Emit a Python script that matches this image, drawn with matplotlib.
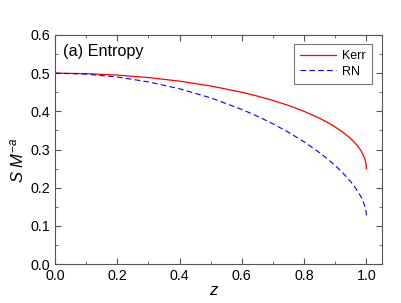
import matplotlib
matplotlib.use("Agg")
import matplotlib.pyplot as plt
from matplotlib.ticker import MultipleLocator

plt.rcParams['font.family'] = ['Liberation Sans', 'DejaVu Sans']
plt.rcParams['mathtext.fontset'] = 'custom'
plt.rcParams['mathtext.rm'] = 'Liberation Sans'
plt.rcParams['mathtext.it'] = 'Liberation Sans:italic'

z = [0.0, 0.1, 0.2, 0.3, 0.4, 0.5, 0.6, 0.65, 0.7, 0.75, 0.8, 0.85, 0.875, 0.9, 0.925,
     0.95, 0.96, 0.97, 0.98, 0.985, 0.99, 0.995, 0.999, 1.0]
kerr = [0.5, 0.4988, 0.4950, 0.4885, 0.4791, 0.4665, 0.45, 0.4400, 0.4285, 0.4154,
        0.40, 0.3817, 0.3710, 0.3590, 0.3450, 0.3281, 0.3200, 0.3108, 0.2998, 0.2931,
        0.2853, 0.2750, 0.2612, 0.25]
rn = [0.5, 0.4975, 0.4900, 0.4772, 0.4591, 0.4353, 0.405, 0.3872, 0.3673, 0.3451,
      0.32, 0.2914, 0.2753, 0.2577, 0.2380, 0.2153, 0.2048, 0.1932, 0.1797, 0.1719,
      0.1628, 0.1512, 0.1364, 0.125]

fig = plt.figure(figsize=(4.02, 3.03), dpi=100)
ax = fig.add_axes([55/402, 1 - 264/303, 327/402, 229/303])
ax.plot(z, kerr, color='red', lw=0.9, label='Kerr')
ax.plot(z, rn, color='blue', lw=0.8, ls=(0, (5, 3)), label='RN')

ax.set_xlim(0, 1.05)
ax.set_ylim(0, 0.6)
ax.set_xticks([0, 0.2, 0.4, 0.6, 0.8, 1.0])
ax.set_xticklabels(['0.0', '0.2', '0.4', '0.6', '0.8', '1.0'])
ax.xaxis.set_minor_locator(MultipleLocator(0.1))
ax.set_yticks([0, 0.1, 0.2, 0.3, 0.4, 0.5, 0.6])
ax.set_yticklabels(['0.0', '0.1', '0.2', '0.3', '0.4', '0.5', '0.6'])
ax.yaxis.set_minor_locator(MultipleLocator(0.05))
ax.tick_params(which='both', direction='in', top=True, right=True, colors='#555555',
               labelcolor='black', labelsize=10.3)
ax.tick_params(which='major', length=4)
ax.tick_params(which='minor', length=2)
for s in ax.spines.values():
    s.set_color('#555555')

ax.set_xlabel('z', style='italic', fontsize=12, labelpad=0)
ax.xaxis.label.set_x(0.483)
ax.set_ylabel(r'$S\ M^{-a}$', fontsize=12, labelpad=3)
ax.yaxis.label.set_y(0.455)
ax.text(0.025, 0.93, '(a) Entropy', fontsize=11.7, transform=ax.transAxes,
        va='center', ha='left')

leg = ax.legend(loc='upper right', bbox_to_anchor=(0.97, 0.962), fontsize=9,
                frameon=True, fancybox=False, edgecolor='#555555', handlelength=2.9,
                handletextpad=0.5, borderpad=0.5, borderaxespad=0, labelspacing=0.3)
leg.get_frame().set_linewidth(0.8)

fig.savefig('out.png', dpi=100)
